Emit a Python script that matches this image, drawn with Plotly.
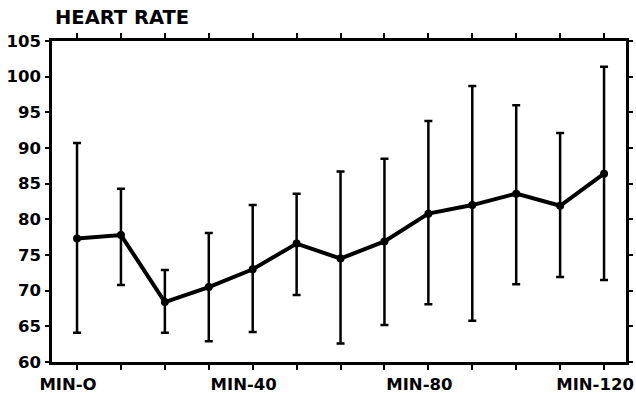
import plotly.graph_objects as go

minutes = [0, 10, 20, 30, 40, 50, 60, 70, 80, 90, 100, 110, 120]
heart_rate = [77.3, 77.8, 68.4, 70.5, 73.0, 76.6, 74.5, 76.9, 80.8, 82.0, 83.6, 81.9, 86.4]
upper = [90.7, 84.3, 72.9, 78.1, 82.0, 83.6, 86.7, 88.5, 93.8, 98.7, 96.0, 92.1, 101.4]
lower = [64.1, 70.8, 64.1, 62.9, 64.2, 69.4, 62.6, 65.2, 68.1, 65.8, 70.9, 71.9, 71.5]
tick_labels = ["MIN-O", "", "", "", "MIN-40", "", "", "", "MIN-80", "", "", "", "MIN-120"]
y_ticks = [60, 65, 70, 75, 80, 85, 90, 95, 100, 105]

err_plus = [u - v for u, v in zip(upper, heart_rate)]
err_minus = [v - l for v, l in zip(heart_rate, lower)]

FAM = "DejaVu Sans, Liberation Sans, Arial, sans-serif"
font = dict(family=FAM, size=16.5, color="black", weight="bold")

fig = go.Figure()
fig.add_trace(go.Scatter(
    x=minutes, y=heart_rate, mode="lines+markers",
    line=dict(color="black", width=4),
    marker=dict(color="black", size=8),
    error_y=dict(type="data", symmetric=False, array=err_plus, arrayminus=err_minus,
                 color="black", thickness=2.5, width=4),
    showlegend=False,
))

fig.update_layout(
    width=636, height=393,
    margin=dict(l=52, r=10, t=41, b=31, autoexpand=False),
    paper_bgcolor="white", plot_bgcolor="white",
    font=font,
    title=dict(text="HEART RATE", x=55/636, xanchor="left", y=1-17/393, yanchor="middle",
               font=dict(family=FAM, size=19.5, color="black", weight="bold")),
    xaxis=dict(range=[-5.7, 125], tickvals=minutes, ticktext=tick_labels, automargin=False,
               showgrid=False, zeroline=False, showline=True, linecolor="black", linewidth=2.5,
               mirror="ticks", ticks="outside", ticklen=5, tickwidth=2, tickcolor="black",
               tickfont=font, ticklabelshift=-9, ticklabeloverflow="allow"),
    yaxis=dict(range=[60, 105], tickvals=y_ticks, automargin=False,
               showgrid=False, zeroline=False, showline=True, linecolor="black", linewidth=2.5,
               mirror="ticks", ticks="outside", ticklen=4, tickwidth=2, tickcolor="black",
               tickfont=font, ticklabelstandoff=1),
)

fig.write_html("out.html", config={"displayModeBar": False},
               post_script="document.body.style.margin='0';")
